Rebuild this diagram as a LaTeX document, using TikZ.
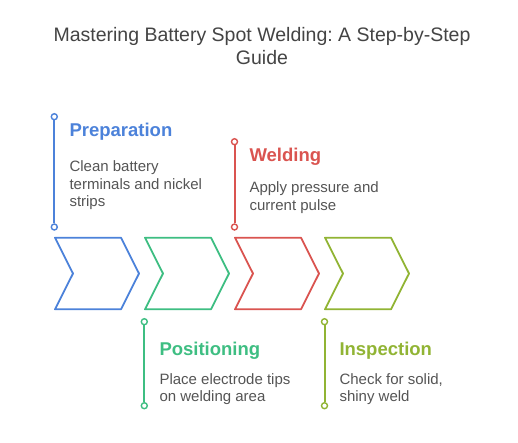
\documentclass[tikz,border=0pt]{standalone}
\usepackage{fontspec}
\setmainfont{Liberation Sans}
\frenchspacing
\definecolor{cblue}{RGB}{76,130,218}
\definecolor{cgreen}{RGB}{62,190,130}
\definecolor{cred}{RGB}{218,84,80}
\definecolor{colive}{RGB}{145,180,52}
\definecolor{ctext}{RGB}{85,85,85}
\definecolor{ctitle}{RGB}{68,68,68}
\tikzset{
  chev/.style={line width=1.8pt, line join=round},
  stem/.style={line width=2pt},
  dot/.style={circle, draw, fill=white, line width=1.4pt, minimum size=6pt, inner sep=0pt},
  head/.style={anchor=base west, inner sep=0pt, font=\fontsize{18.5}{22}\selectfont\bfseries},
  body/.style={anchor=base west, inner sep=0pt, align=left, text=ctext, font=\fontsize{15}{17.5}\selectfont},
}
\newcommand{\chevron}[2]{%
  \draw[chev, #2] (#1,237.7) -- ++(66,0) -- ++(18,35.8) -- ++(-18,35.8) -- ++(-66,0) -- ++(18,-35.8) -- cycle;}
\begin{document}
\begin{tikzpicture}[x=1pt,y=-1pt]
\useasboundingbox[fill=white] (0,0) rectangle (518,442);
\node[anchor=base, inner sep=0pt, align=center, text=ctitle, font=\fontsize{19.5}{22.3}\selectfont] (title) at (262,64) {Mastering Battery Spot Welding: A Step-by-Step\\Guide};

\chevron{55}{cblue}
\chevron{145}{cgreen}
\chevron{235}{cred}
\chevron{325}{colive}

% Preparation
\node[dot, draw=cblue] (p1) at (54.3,116.7) {};
\node[dot, draw=cblue] (p2) at (54.3,227) {};
\draw[stem, cblue] (p1) -- (p2);
\node[head, text=cblue] (ph) at (69.3,136) {Preparation};
\node[body] (pb) at (69.3,206.7) {Clean battery\\terminals and nickel\\strips};

% Welding
\node[dot, draw=cred] (w1) at (234.5,141.7) {};
\node[dot, draw=cred] (w2) at (234.5,227) {};
\draw[stem, cred] (w1) -- (w2);
\node[head, text=cred] (wh) at (249.3,161.7) {Welding};
\node[body] (wb) at (249.3,210.3) {Apply pressure and\\current pulse};

% Positioning
\node[dot, draw=cgreen] (s1) at (144.3,321.7) {};
\node[dot, draw=cgreen] (s2) at (144.3,405.7) {};
\draw[stem, cgreen] (s1) -- (s2);
\node[head, text=cgreen] (sh) at (159.3,355) {Positioning};
\node[body] (sb) at (159.3,401.5) {Place electrode tips\\on welding area};

% Inspection
\node[dot, draw=colive] (i1) at (324.5,321.7) {};
\node[dot, draw=colive] (i2) at (324.5,405.7) {};
\draw[stem, colive] (i1) -- (i2);
\node[head, text=colive] (ih) at (339.3,355) {Inspection};
\node[body] (ib) at (339.3,401.5) {Check for solid,\\shiny weld};
\end{tikzpicture}
\end{document}
